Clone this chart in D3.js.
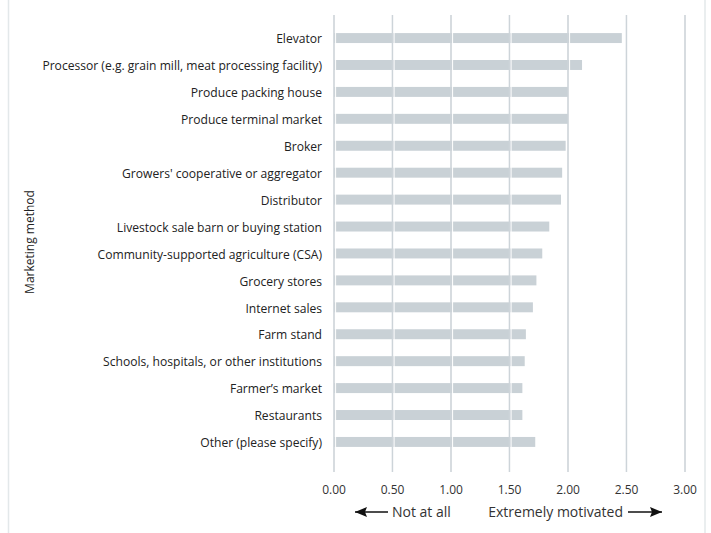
<!DOCTYPE html>
<html><head><meta charset="utf-8">
<script src="https://cdn.jsdelivr.net/npm/d3@7"></script>
<style>body{margin:0;background:#fff;} text{font-family:"Open Sans",sans-serif;}</style>
</head><body><svg id="c" width="711" height="533"></svg>
<script>
const categories = ["Elevator","Processor (e.g. grain mill, meat processing facility)","Produce packing house","Produce terminal market","Broker","Growers' cooperative or aggregator","Distributor","Livestock sale barn or buying station","Community-supported agriculture (CSA)","Grocery stores","Internet sales","Farm stand","Schools, hospitals, or other institutions","Farmer\u2019s market","Restaurants","Other (please specify)"];
const values = [2.46,2.12,2.00,2.00,1.98,1.95,1.94,1.84,1.78,1.73,1.70,1.64,1.63,1.61,1.61,1.72];
const ticks = [0,0.5,1,1.5,2,2.5,3];

const svg = d3.select("#c");
const x = d3.scaleLinear().domain([0,3]).range([334,685]);
const y = d3.scaleBand().domain(categories).range([25,455]).paddingInner(0.63).paddingOuter(0.3);

// frame lines
svg.append("line").attr("x1",8.5).attr("x2",8.5).attr("y1",0).attr("y2",533).attr("stroke","#e3e8ea").attr("stroke-width",1.5);
svg.append("line").attr("x1",705).attr("x2",705).attr("y1",0).attr("y2",533).attr("stroke","#e3e8ea").attr("stroke-width",1.5);

// bars
svg.selectAll("rect.bar").data(values).enter().append("rect")
  .attr("x",x(0)).attr("y",(d,i)=>y(categories[i]))
  .attr("width",d=>x(d)-x(0)).attr("height",y.bandwidth())
  .attr("fill","#c9d1d6");

// gridlines
const g = svg.append("g");
ticks.forEach(t=>{
  g.append("line").attr("x1",x(t)).attr("x2",x(t)).attr("y1",15).attr("y2",472).attr("stroke","#cdd4d9").attr("stroke-width",1.6);
  g.append("line").attr("x1",x(t)+1.6).attr("x2",x(t)+1.6).attr("y1",15).attr("y2",472).attr("stroke","#ffffff").attr("stroke-width",1);
});

// category labels
svg.selectAll("text.cat").data(categories).enter().append("text")
  .attr("x",322).attr("y",d=>y(d)+y.bandwidth()/2+1).attr("dy","0.35em")
  .attr("text-anchor","end").attr("font-size",12.1).attr("fill","#222").text(d=>d);

// x tick labels
svg.selectAll("text.tick").data(ticks).enter().append("text")
  .attr("x",d=>x(d)).attr("y",494).attr("text-anchor","middle").attr("font-size",12).attr("fill","#333")
  .text(d=>d3.format(".2f")(d));

// y title
svg.append("text").attr("transform","translate(34,242) rotate(-90)").attr("text-anchor","middle")
  .attr("font-size",12).attr("fill","#222").text("Marketing method");

// arrows
const defs = svg.append("defs");
defs.append("marker").attr("id","ah").attr("viewBox","0 0 12 10").attr("refX",12).attr("refY",5)
  .attr("markerWidth",14).attr("markerHeight",10).attr("markerUnits","userSpaceOnUse").attr("orient","auto")
  .append("path").attr("d","M0,0 L12,5 L0,10 L2,5 Z").attr("fill","#111");
svg.append("line").attr("x1",388).attr("x2",355).attr("y1",512).attr("y2",512).attr("stroke","#111").attr("stroke-width",1.5).attr("marker-end","url(#ah)");
svg.append("line").attr("x1",628).attr("x2",662).attr("y1",512).attr("y2",512).attr("stroke","#111").attr("stroke-width",1.5).attr("marker-end","url(#ah)");
svg.append("text").attr("x",392).attr("y",512).attr("dy","0.35em").attr("font-size",14).attr("fill","#333").text("Not at all");
svg.append("text").attr("x",623).attr("y",512).attr("dy","0.35em").attr("text-anchor","end").attr("font-size",14).attr("fill","#333").text("Extremely motivated");
</script></body></html>
